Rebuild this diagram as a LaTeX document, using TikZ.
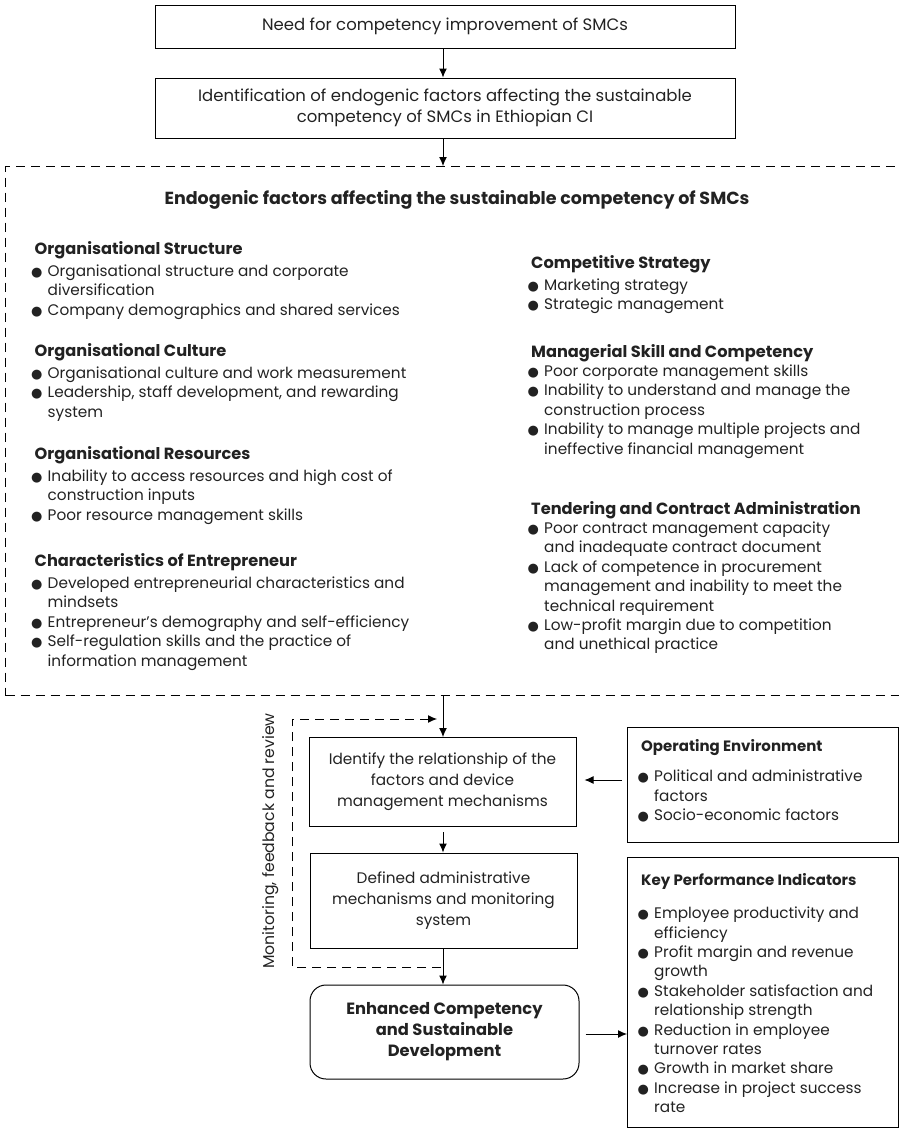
\documentclass[tikz,border=0pt]{standalone}
\usepackage{fontspec}
\setmainfont{Poppins}
\newfontfamily\dejavu{DejaVu Sans}
\usetikzlibrary{arrows.meta,calc}
\definecolor{txt}{HTML}{222222}
\newcommand\bul{\makebox[16.5pt][l]{{\dejavu\fontsize{13}{13}\selectfont ●}}}
\newcommand\hang{\hspace*{16.5pt}}
\newcommand\hd[1]{\hspace*{3.5pt}{\fontsize{16.2}{19.4}\selectfont\bfseries #1}}
\newcommand\hds[1]{\hspace*{3.5pt}{\fontsize{15}{19.4}\selectfont\bfseries #1}}
\begin{document}
\begin{tikzpicture}[x=1pt,y=-1pt,
  box/.style={draw, line width=1pt, align=center, text=txt, inner sep=0pt,
    font=\fontsize{15.3}{21}\selectfont},
  sect/.style={anchor=north west, align=left, inner sep=0pt, text=txt,
    font=\fontsize{15.3}{19.4}\selectfont},
  arr/.style={line width=1pt, -{Latex[length=9pt,width=8pt]}},
  dsh/.style={line width=1pt, dash pattern=on 9pt off 6pt}]
\useasboundingbox (0,0) rectangle (899,1128);
\clip (0,0) rectangle (899,1128);

\node[box, minimum width=580, minimum height=43, font=\fontsize{16.5}{21}\selectfont] (b1) at (445,26.5)
  {Need for competency improvement of SMCs};
\node[box, minimum width=580, minimum height=60, font=\fontsize{16.5}{21.5}\selectfont] (b2) at (445,108)
  {Identification of endogenic factors affecting the sustainable\\competency of SMCs in Ethiopian CI};
\node[dsh, draw, anchor=north west, minimum width=930, minimum height=529, inner sep=0] (frame) at (5,166) {};
\draw[arr] (b1.south -| 443,0) -- (b2.north -| 443,0);
\draw[arr] (b2.south -| 443,0) -- (frame.north -| 443,0);

\node[text=txt, font=\fontsize{17.5}{19}\selectfont\bfseries] (title) at (457,200)
  {Endogenic factors affecting the sustainable competency of SMCs};

% left column
\node[sect] (os) at (31,241) {\hd{Organisational Structure}\\[3pt]
  \bul Organisational structure and corporate\\
  \hang diversification\\
  \bul Company demographics and shared services};
\node[sect] (oc) at (31,343) {\hd{Organisational Culture}\\[3pt]
  \bul Organisational culture and work measurement\\
  \bul Leadership, staff development, and rewarding\\
  \hang system};
\node[sect] (or) at (31,446) {\hd{Organisational Resources}\\[3pt]
  \bul Inability to access resources and high cost of\\
  \hang construction inputs\\
  \bul Poor resource management skills};
\node[sect] (ce) at (31,553) {\hd{Characteristics of Entrepreneur}\\[3pt]
  \bul Developed entrepreneurial characteristics and\\
  \hang mindsets\\
  \bul Entrepreneur’s demography and self-efficiency\\
  \bul Self-regulation skills and the practice of\\
  \hang information management};

% right column
\node[sect] (cs) at (527.5,255) {\hd{Competitive Strategy}\\[3pt]
  \bul Marketing strategy\\
  \bul Strategic management};
\node[sect] (ms) at (527.5,344) {\hd{Managerial Skill and Competency}\\
  \bul Poor corporate management skills\\
  \bul Inability to understand and manage the\\
  \hang construction process\\
  \bul Inability to manage multiple projects and\\
  \hang ineffective financial management};
\node[sect] (tc) at (527.5,501) {\hd{Tendering and Contract Administration}\\
  \bul Poor contract management capacity\\
  \hang and inadequate contract document\\
  \bul Lack of competence in procurement\\
  \hang management and inability to meet the\\
  \hang technical requirement\\
  \bul Low-profit margin due to competition\\
  \hang and unethical practice};

% lower flow
\node[box, minimum width=267, minimum height=89] (b3) at (442.5,782)
  {Identify the relationship of the\\factors and device\\management mechanisms};
\node[box, minimum width=267, minimum height=95] (b4) at (443.5,900.5)
  {Defined administrative\\mechanisms and monitoring\\system};
\node[box, rounded corners=16pt, minimum width=269, minimum height=94,
  font=\fontsize{16.3}{21}\selectfont\bfseries] (rb) at (444.5,1032)
  {Enhanced Competency\\and Sustainable\\Development};

\node[draw, line width=1pt, anchor=north west, minimum width=271, minimum height=115, inner sep=0] (oe) at (627,727) {};
\node[sect] (oet) at (637.5,739) {\hds{Operating Environment}\\[11pt]
  \bul Political and administrative\\
  \hang factors\\
  \bul Socio-economic factors};

\node[draw, line width=1pt, anchor=north west, minimum width=271, minimum height=270, inner sep=0] (kpi) at (627,857) {};
\node[sect] (kpit) at (637.5,873) {\hds{Key Performance Indicators}\\[14pt]
  \bul Employee productivity and\\
  \hang efficiency\\
  \bul Profit margin and revenue\\
  \hang growth\\
  \bul Stakeholder satisfaction and\\
  \hang relationship strength\\
  \bul Reduction in employee\\
  \hang turnover rates\\
  \bul Growth in market share\\
  \bul Increase in project success\\
  \hang rate};

\draw[arr] (frame.south -| 443,0) -- (b3.north -| 443,0);
\draw[arr] (b3.south -| 443,0) ++(0,5) -- (b4.north -| 443,0);
\draw[arr] (b4.south -| 443,0) -- (rb.north -| 443,0);
\draw[arr] ([xshift=-5pt]oe.west |- 0,780) -- ([xshift=8pt]b3.east |- 0,780);
\draw[arr] ([xshift=6pt]rb.east |- 0,1034) -- (kpi.west |- 0,1034);

\coordinate (fs) at (441,967);
\coordinate (fl) at (292,967);
\coordinate (ft) at (292,719);
\coordinate (fe) at (437,719);
\draw[dsh, -{Latex[length=9pt,width=8pt]}] (fs) -- (fl) -- (ft) -- (fe);
\node[text=txt, rotate=90, font=\fontsize{15.7}{19}\selectfont, inner sep=0] (mon) at (271,841)
  {Monitoring, feedback and review};
\end{tikzpicture}
\end{document}
